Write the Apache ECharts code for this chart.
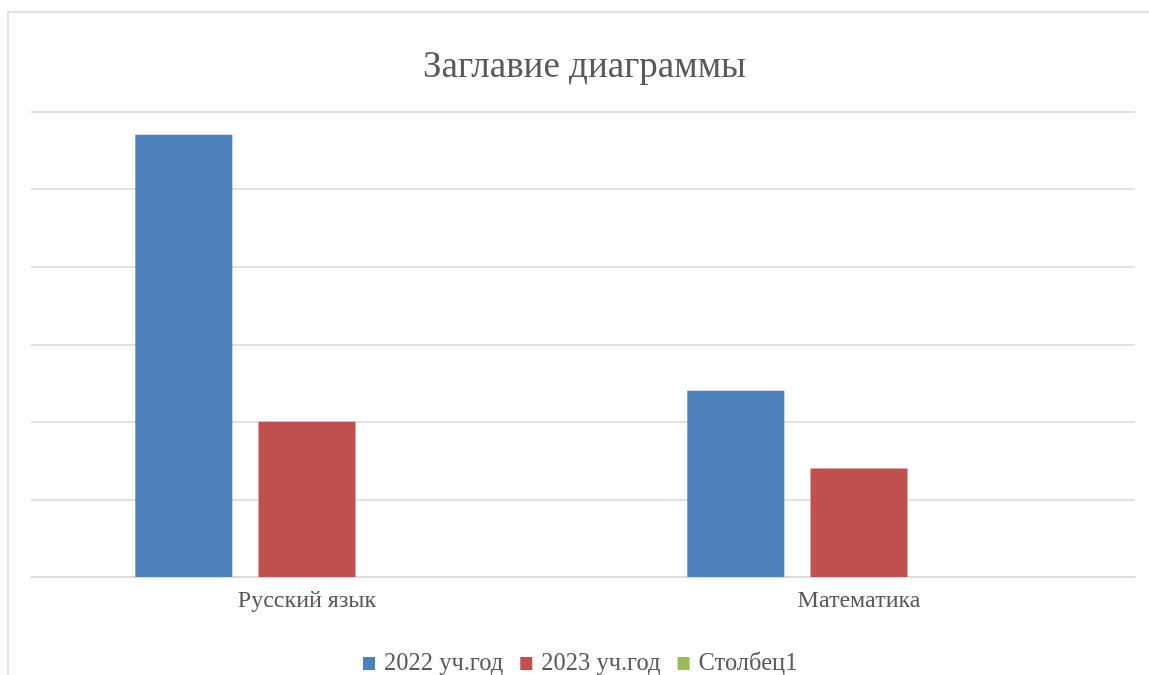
<!DOCTYPE html>
<html>
<head>
<meta charset="utf-8">
<script src="https://cdn.jsdelivr.net/npm/echarts@6/dist/echarts.min.js"></script>
<style>
html,body{margin:0;padding:0;background:#fff;}
#chart{width:1149px;height:675px;}
</style>
</head>
<body>
<div id="chart"></div>
<script>
const categories = ['Русский язык', 'Математика'];
const series2022 = [5.7, 2.4];
const series2023 = [2.0, 1.4];
const seriesCol1 = [null, null];
const seriesNames = ['2022 уч.год', '2023 уч.год', 'Столбец1'];

const chart = echarts.init(document.getElementById('chart'));
const font = 'Liberation Serif';
chart.setOption({
  animation: false,
  backgroundColor: '#fff',
  color: ['#4f81bd', '#c0504d', '#9bbb59'],
  title: {
    text: 'Заглавие диаграммы',
    left: 418,
    top: 44,
    textStyle: { fontFamily: font, fontSize: 37, fontWeight: 'normal', color: '#595959' }
  },
  graphic: [{
    type: 'polyline',
    shape: { points: [[8, 675], [8, 12], [1149, 12]] },
    style: { stroke: '#d9d9d9', lineWidth: 1.5, fill: null },
    silent: true
  }],
  legend: {
    data: seriesNames,
    top: 646,
    left: 358,
    itemWidth: 12,
    itemHeight: 13,
    itemGap: 17,
    icon: 'rect',
    textStyle: { fontFamily: font, fontSize: 24.5, color: '#595959', padding: [0, 0, 0, 4] }
  },
  grid: { left: 31, right: 14, top: 111.5, bottom: 98, containLabel: false },
  xAxis: {
    type: 'category',
    data: categories,
    axisTick: { show: false },
    axisLine: { lineStyle: { color: '#d9d9d9', width: 1.5 } },
    axisLabel: { fontFamily: font, fontSize: 24, color: '#595959', margin: 12 }
  },
  yAxis: {
    type: 'value',
    min: 0, max: 6, interval: 1,
    axisLabel: { show: false },
    axisLine: { show: false },
    axisTick: { show: false },
    splitLine: { lineStyle: { color: '#d9d9d9', width: 1.5 } }
  },
  series: [
    { name: seriesNames[0], type: 'bar', data: series2022, barWidth: 97, barGap: '27%' },
    { name: seriesNames[1], type: 'bar', data: series2023, barWidth: 97, barGap: '27%' },
    { name: seriesNames[2], type: 'bar', data: seriesCol1, barWidth: 97, barGap: '27%' }
  ]
});
</script>
</body>
</html>
